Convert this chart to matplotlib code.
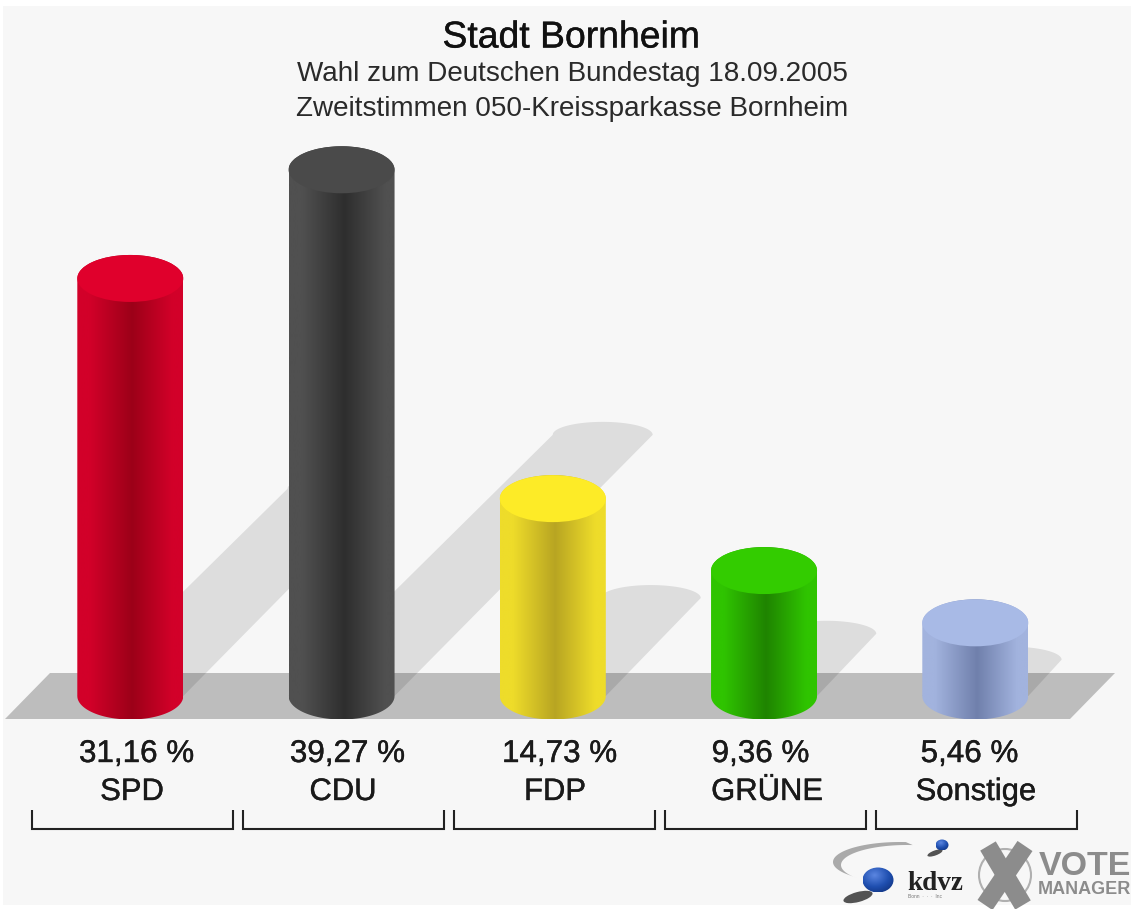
import numpy as np
import matplotlib
matplotlib.use("Agg")
import matplotlib.pyplot as plt
import matplotlib.patheffects as pe
from matplotlib.patches import Polygon, Ellipse, PathPatch, Rectangle, Circle
from matplotlib.path import Path
from matplotlib.colors import LinearSegmentedColormap

parties = ["SPD", "CDU", "FDP", "GRÜNE", "Sonstige"]
values = [31.16, 39.27, 14.73, 9.36, 5.46]
value_labels = ["31,16 %", "39,27 %", "14,73 %", "9,36 %", "5,46 %"]
top_colors = ["#e0002c", "#4a4a4a", "#fdeb27", "#33cc00", "#a8bae6"]
side_colors = ["#d20029", "#505050", "#eedc2a", "#2fc400", "#a2b3de"]
dark_colors = ["#9c0018", "#2e2e2e", "#b8a522", "#1f8400", "#7080ac"]
value_x = [136.5, 347.5, 559.5, 760.5, 969.5]
party_x = [132, 343, 555, 767, 976]
title = "Stadt Bornheim"
subtitle1 = "Wahl zum Deutschen Bundestag 18.09.2005"
subtitle2 = "Zweitstimmen 050-Kreissparkasse Bornheim"

W, H = 1131, 909
FONT = "Liberation Sans"
fig = plt.figure(figsize=(W / 100, H / 100), dpi=100, facecolor="white")

# Pixel-space layer: background, floor, texts, brackets, logo
bg = fig.add_axes([0, 0, 1, 1], zorder=0)
bg.set_xlim(0, W)
bg.set_ylim(H, 0)
bg.axis("off")
bg.add_patch(Rectangle((3, 6), W - 3, H - 10, fc="#f7f7f7", ec="none"))
bg.add_patch(Polygon([(5, 719), (50, 673), (1115, 673), (1070, 719)], fc="#bdbdbd", ec="none"))

# Value layer: x = category index, y = percent
px_per_pct = 13.4
px_per_cat = 211.25
base_px = 696
x0_px = 130.3
ax = fig.add_axes([0, 0, 1, 1], zorder=1)
ax.patch.set_alpha(0)
ax.axis("off")


def arc_pts(cx, cy, rx, ry, a0, a1, n=60):
    t = np.radians(np.linspace(a0, a1, n))
    return np.c_[cx + rx * np.cos(t), cy + ry * np.sin(t)]


hw = 53 / px_per_cat
hh = 23.5 / px_per_pct
shw = 50 / px_per_cat
shh = 13 / px_per_pct
sdx = 6.65 / px_per_cat
sdy = 6.65 / px_per_pct

# shadows
for i, v in enumerate(values):
    cx, cy = i + sdx * v, sdy * v
    top = arc_pts(cx, cy, shw, shh, 180, 0)
    pts = np.vstack([[[i - hw, 0]], top, [[i + hw, 0]]])
    ax.add_patch(Polygon(pts, fc="black", alpha=0.1, ec="none", zorder=1))

# cylinders
for i, v in enumerate(values):
    front = arc_pts(i, 0, hw, hh, 180, 360)
    back = arc_pts(i, v, hw, hh, 0, 180)
    verts = np.vstack([front, back, front[:1]])
    path = Path(verts)
    cmap = LinearSegmentedColormap.from_list(
        "c", [(0, side_colors[i]), (0.12, side_colors[i]), (0.52, dark_colors[i]),
              (0.9, side_colors[i]), (1, side_colors[i])])
    im = ax.imshow(np.linspace(0, 1, 256)[None, :], cmap=cmap, aspect="auto",
                   extent=(i - hw, i + hw, -hh, v + hh), zorder=2 + i, interpolation="bilinear")
    im.set_clip_path(PathPatch(path, transform=ax.transData))
    ax.add_patch(Ellipse((i, v), 2 * hw, 2 * hh, fc=top_colors[i], ec="none", zorder=2 + i + 0.5))

ax.set_xlim(-x0_px / px_per_cat, (W - x0_px) / px_per_cat)
ax.set_ylim((base_px - H) / px_per_pct, base_px / px_per_pct)

# Texts
C = "#1a1a1a"
thick = [pe.withStroke(linewidth=0.3, foreground=C)]
bg.text(571.5, 38, title, ha="center", va="center", fontsize=26.9, family=FONT, color="#111111", path_effects=thick)
bg.text(572, 74, subtitle1, ha="center", va="center", fontsize=20.1, family=FONT, color="#2a2a2a")
bg.text(572, 109, subtitle2, ha="center", va="center", fontsize=20.1, family=FONT, color="#2a2a2a")
for i, (lab, p) in enumerate(zip(value_labels, parties)):
    bg.text(value_x[i], 754, lab, ha="center", va="center", fontsize=22.6, family=FONT, color=C, path_effects=thick)
    bg.text(party_x[i], 792, p, ha="center", va="center", fontsize=22.3, family=FONT, color=C, path_effects=thick)
    # bracket
    l = 32 + i * 211
    bg.plot([l, l, l + 201, l + 201], [810, 829, 829, 810], color="#222222", lw=1.5,
            solid_joinstyle="miter", solid_capstyle="butt")

# Logo
grey = "#8c8c8c"
swoosh = np.vstack([arc_pts(900, 862, 67, 20, 275, 140), arc_pts(907, 865, 66, 20, 140, 275)])
bg.add_patch(Polygon(swoosh, fc="#aaaaaa", ec="none"))
bg.add_patch(Ellipse((858, 897), 30, 10, angle=-15, fc="#2a2a2a", ec="none", alpha=0.8))
yy, xx = np.mgrid[-1:1:64j, -1:1:64j]
rr = np.hypot(xx + 0.25, yy + 0.35)
sph = LinearSegmentedColormap.from_list("s", ["#5a85e0", "#1f4fb0", "#0c2a70"])
for (cx, cy, rx, ry) in [(878, 880, 15.5, 12.5), (942, 845, 6.5, 5.5)]:
    im = bg.imshow(rr, cmap=sph, extent=(cx - rx, cx + rx, cy + ry, cy - ry), aspect="auto", zorder=3)
    im.set_clip_path(Ellipse((cx, cy), 2 * rx, 2 * ry, transform=bg.transData))
bg.add_patch(Ellipse((935, 853), 16, 5, angle=-20, fc="#2a2a2a", ec="none", alpha=0.8))
bg.text(935, 884, "kdvz", ha="center", va="center", fontsize=19.5, family="Liberation Serif",
        weight="bold", color="#222222")
bg.text(925, 897, "Bonn  ·  ·  ·  Inc", ha="center", va="center", fontsize=3.5, family=FONT, color="#777777")
bg.add_patch(Circle((1005, 875), 26, fc="none", ec="#b0b0b0", lw=1.5))
bg.plot([988, 1023], [846, 905], color=grey, lw=13, solid_capstyle="butt")
bg.plot([1025, 985], [846, 905], color=grey, lw=13, solid_capstyle="butt")
bg.text(1085, 866.5, "VOTE", ha="center", va="center", fontsize=24.5, family=FONT, weight="bold", color=grey)
bg.text(1084, 890, "MANAGER", ha="center", va="center", fontsize=13, family=FONT, weight="bold", color=grey)
bg.set_xlim(0, W)
bg.set_ylim(H, 0)

fig.savefig("out.png", dpi=100, facecolor="white")
